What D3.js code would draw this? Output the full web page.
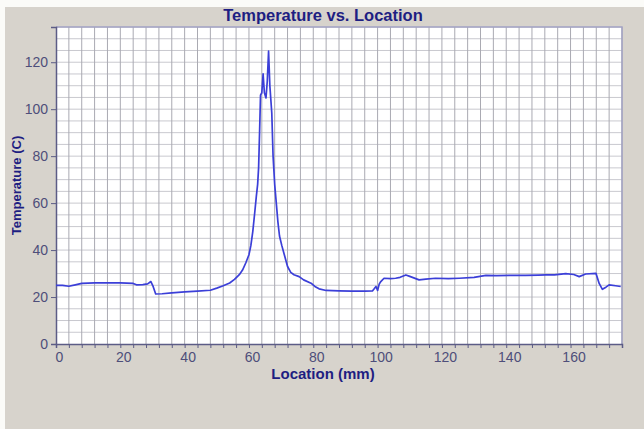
<!DOCTYPE html>
<html>
<head>
<meta charset="utf-8">
<script src="https://cdn.jsdelivr.net/npm/d3@7"></script>
<style>
  body { margin: 0; background: #fff; }
  svg { display: block; font-family: "Liberation Sans", Arial, sans-serif; }
</style>
</head>
<body>
<svg id="chart" width="644" height="429"></svg>
<script>
// readings taken off the trace
const location_mm = [0, 2, 4, 6, 8, 12, 16, 20, 24, 25, 27, 28.5, 29.5, 30.2, 31, 33, 36, 40, 44, 48,
    50, 52, 54, 55.5, 57, 58, 59, 60, 60.6, 61.2, 61.8, 62.3, 62.7, 63, 63.3, 63.6, 64, 64.4, 64.8, 65.3, 65.7, 66.1,
    66.5, 67.1, 67.5, 68, 68.5, 69, 69.5, 70.2, 71, 72, 73, 74, 75.6, 77, 79.3, 80.5, 81.8, 84, 88, 92, 96, 98.4, 99,
    99.5, 100, 100.5, 101, 102, 104, 105.6, 107, 108.8, 110, 112.9, 115, 118, 122, 125.4, 130, 133.7,
    137, 141, 146, 150, 152.3, 155, 158.5, 161, 162.7, 164.7, 167.9, 168.9, 169.9, 171, 172, 174, 175.6];
const temperature_c = [25, 25, 24.6, 25.2, 25.8, 26, 26, 26, 25.8, 25.2, 25.3, 25.6, 26.6, 24.5, 21.3, 21.4, 21.8, 22.2, 22.5, 22.9,
    23.8, 24.8, 26, 27.5, 29.5, 31.5, 34.5, 38, 42, 48, 56, 63, 68, 75, 90, 106, 107, 115, 107, 104.8, 112, 124.7,
    110, 98.4, 80, 68, 60, 52, 46, 42, 38, 33, 30.5, 29.5, 28.7, 27.3, 25.9, 24.5, 23.5, 22.8, 22.6, 22.5, 22.5, 22.6, 23.6,
    24.5, 22.8, 25.5, 26.6, 28, 27.8, 28, 28.4, 29.4, 28.8, 27.3, 27.6, 28, 27.8, 28, 28.4, 29.2,
    29.1, 29.2, 29.2, 29.3, 29.4, 29.4, 30, 29.6, 28.7, 29.8, 30.1, 25.8, 23.3, 24.2, 25.2, 24.8, 24.5];

const xGrid = d3.range(0, 177, 4);
const yGrid = d3.range(0, 136, 5);
const xLabels = [0, 20, 40, 60, 80, 100, 120, 140, 160];
const yLabels = [0, 20, 40, 60, 80, 100, 120];

const svg = d3.select("#chart");
const W = +svg.attr("width"), H = +svg.attr("height");
const plotL = 56, plotR = 622, plotT = 27, plotB = 344;

// window background
svg.append("rect").attr("width", W).attr("height", H).attr("fill", "#fbfbf8");
svg.append("rect").attr("x", 5).attr("y", 7).attr("width", W - 5).attr("height", H - 7).attr("fill", "#d7d3cc");

const x = d3.scaleLinear().domain([0, 176]).range([plotL, plotR]);
const y = d3.scaleLinear().domain([0, 135]).range([plotB, plotT]);

svg.append("rect")
    .attr("x", plotL).attr("y", plotT)
    .attr("width", plotR - plotL).attr("height", plotB - plotT)
    .attr("fill", "#ffffff");

// grid
svg.append("g").selectAll("line")
    .data(yGrid.slice(1))
    .enter().append("line")
    .attr("x1", plotL).attr("x2", plotR)
    .attr("y1", d => y(d)).attr("y2", d => y(d))
    .attr("stroke", "#c9c9cf").attr("stroke-width", 1);

svg.append("g").selectAll("line")
    .data(xGrid.slice(1))
    .enter().append("line")
    .attr("x1", d => x(d)).attr("x2", d => x(d))
    .attr("y1", plotT).attr("y2", plotB)
    .attr("stroke", "#aaaab2").attr("stroke-width", 1);

// frame (top / right)
svg.append("path")
    .attr("d", `M${plotL},${plotT}H${plotR}V${plotB}`)
    .attr("fill", "none").attr("stroke", "#a3a3c4").attr("stroke-width", 1.5);

// axes
const xAxis = d3.axisBottom(x)
    .tickValues(xGrid)
    .tickSize(4)
    .tickPadding(4)
    .tickFormat(d => xLabels.includes(d) ? d : "");
const gx = svg.append("g").attr("transform", `translate(0,${plotB})`).call(xAxis);

const yAxis = d3.axisLeft(y)
    .tickValues(yLabels)
    .tickSize(5)
    .tickPadding(3);
const gy = svg.append("g").attr("transform", `translate(${plotL},0)`).call(yAxis);

[gx, gy].forEach(g => {
    g.select(".domain").attr("stroke", "#5c5c86").attr("stroke-width", 1.5);
    g.selectAll(".tick line").attr("stroke", "#5c5c86");
    g.selectAll(".tick text")
        .attr("fill", "#4e4e7a")
        .style("font-size", "14px")
        .style("font-family", "'Liberation Sans', Arial, sans-serif");
});
gx.selectAll(".tick text").attr("dx", "3px");

// curve
const pts = location_mm.map((d, i) => [d, temperature_c[i]]);
svg.append("path")
    .datum(pts)
    .attr("fill", "none")
    .attr("stroke", "#3b3fd8")
    .attr("stroke-width", 1.7)
    .attr("stroke-linejoin", "round")
    .attr("d", d3.line().x(d => x(d[0])).y(d => y(d[1])));

// titles
svg.append("text")
    .attr("x", 323).attr("y", 21)
    .attr("text-anchor", "middle")
    .attr("fill", "#1e1e82")
    .style("font-weight", "bold")
    .style("font-size", "16.5px")
    .text("Temperature vs. Location");

svg.append("text")
    .attr("x", 323).attr("y", 379)
    .attr("text-anchor", "middle")
    .attr("fill", "#1e1e82")
    .style("font-weight", "bold")
    .style("font-size", "15px")
    .text("Location (mm)");

svg.append("text")
    .attr("transform", `translate(21,${(plotT + plotB) / 2}) rotate(-90)`)
    .attr("text-anchor", "middle")
    .attr("fill", "#1e1e82")
    .style("font-weight", "bold")
    .style("font-size", "13px")
    .text("Temperature (C)");
</script>
</body>
</html>
